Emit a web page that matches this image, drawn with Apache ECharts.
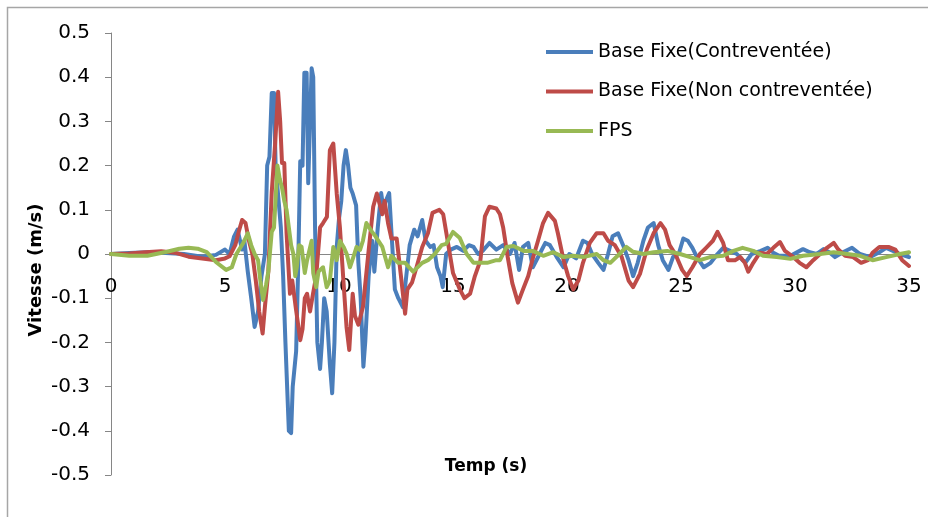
<!DOCTYPE html>
<html>
<head>
<meta charset="utf-8">
<script src="https://cdn.jsdelivr.net/npm/echarts@6/dist/echarts.min.js"></script>
<style>
  html, body { margin: 0; padding: 0; background: #ffffff; }
  #chart { width: 928px; height: 517px; }
</style>
</head>
<body>
<div id="chart"></div>
<script>
// Velocity time histories (m/s) versus time (s)
const seriesNames = ['Base Fixe(Contreventée)', 'Base Fixe(Non contreventée)', 'FPS'];

const blueT = [0, 0.8, 1.6, 2.4, 3.2, 4.0, 4.6, 5.0, 5.2, 5.4, 5.55, 5.75, 5.85, 6.0, 6.15, 6.3, 6.45, 6.6, 6.75, 6.85,
  6.95, 7.05, 7.15, 7.22, 7.3, 7.45, 7.55, 7.65, 7.72, 7.8, 7.9, 7.97, 8.05, 8.12, 8.2, 8.3, 8.4, 8.48, 8.58, 8.65,
  8.72, 8.8, 8.87, 8.95, 9.05, 9.17, 9.25, 9.35, 9.46, 9.6, 9.7, 9.8, 9.9, 10.0, 10.1, 10.2, 10.3, 10.4, 10.5, 10.6,
  10.75, 10.85, 10.95, 11.07, 11.15, 11.3, 11.45, 11.55, 11.7, 11.85, 11.95, 12.05, 12.2, 12.3, 12.45, 12.6, 12.8, 12.95, 13.1, 13.3,
  13.45, 13.65, 13.8, 14.0, 14.15, 14.3, 14.45, 14.55, 14.7, 14.9, 15.17, 15.45, 15.7, 15.9, 16.1, 16.3, 16.6, 16.9, 17.2, 17.5,
  17.7, 17.9, 18.07, 18.3, 18.5, 18.8, 19.05, 19.25, 19.55, 19.85, 20.1, 20.4, 20.7, 20.9, 21.1, 21.37, 21.6, 21.8, 22.0, 22.24,
  22.46, 22.7, 22.9, 23.1, 23.35, 23.55, 23.8, 24.0, 24.2, 24.45, 24.65, 24.9, 25.1, 25.3, 25.5, 25.7, 26.0, 26.3, 26.6, 26.85,
  27.15, 27.45, 27.7, 27.85, 28.1, 28.5, 28.8, 29.05, 29.3, 29.8, 30.35, 30.65, 30.95, 31.25, 31.5, 31.75, 32.1, 32.5, 32.85, 33.3,
  33.7, 34.0, 34.3, 34.6, 35.0];
const blueV = [0, 0.002, 0.004, 0.002, 0.0, -0.006, -0.002, 0.01, 0.0, 0.04, 0.055, 0.01, 0.03, -0.04, -0.1, -0.165, -0.13, -0.05, 0.0, 0.2,
  0.22, 0.364, 0.364, 0.2, 0.2, 0.06, -0.05, -0.2, -0.2, -0.4, -0.405, -0.3, -0.3, -0.22, -0.05, 0.21, 0.2, 0.41, 0.41, 0.16,
  0.16, 0.42, 0.4, 0.06, -0.2, -0.26, -0.2, -0.1, -0.13, -0.25, -0.315, -0.2, 0.016, 0.08, 0.12, 0.2, 0.235, 0.2, 0.15, 0.137,
  0.11, -0.02, -0.1, -0.255, -0.2, -0.05, 0.03, -0.04, 0.06, 0.138, 0.1, 0.12, 0.138, 0.05, -0.08, -0.1, -0.12, -0.05, 0.02, 0.055,
  0.04, 0.077, 0.03, 0.016, 0.02, -0.03, -0.05, -0.075, 0.0, 0.01, 0.016, 0.007, 0.02, 0.016, 0.0, 0.007, 0.025, 0.01, 0.02, 0.0,
  0.025, -0.036, 0.016, 0.025, -0.03, 0.0, 0.025, 0.02, -0.007, -0.03, 0.0, -0.01, 0.03, 0.025, 0.0, -0.02, -0.036, 0.0, 0.04, 0.047,
  0.02, -0.014, -0.05, -0.02, 0.03, 0.06, 0.07, 0.02, -0.014, -0.036, -0.007, 0.0, 0.035, 0.03, 0.014, -0.007, -0.03, -0.02, 0.0, 0.014,
  0.007, 0.0, -0.014, -0.018, 0.0, 0.007, 0.014, 0.003, -0.004, -0.004, 0.011, 0.004, 0.0, 0.011, 0.004, -0.007, 0.004, 0.014, 0.0, -0.007,
  0.004, 0.014, 0.007, 0.0, -0.007];

const redT = [0, 0.8, 1.5, 2.2, 2.8, 3.4, 4.0, 4.6, 5.0, 5.2, 5.45, 5.6, 5.75, 5.9, 6.05, 6.2, 6.35, 6.5, 6.65, 6.75,
  6.9, 7.05, 7.2, 7.33, 7.42, 7.5, 7.6, 7.7, 7.85, 7.95, 8.1, 8.3, 8.4, 8.5, 8.6, 8.73, 8.86, 9.0, 9.17, 9.3,
  9.47, 9.6, 9.75, 9.9, 10.04, 10.18, 10.33, 10.45, 10.6, 10.7, 10.85, 11.05, 11.27, 11.5, 11.66, 11.9, 12.0, 12.15, 12.3, 12.53,
  12.75, 12.9, 13.0, 13.2, 13.4, 13.65, 13.9, 14.1, 14.4, 14.57, 14.7, 15.0, 15.3, 15.5, 15.75, 15.96, 16.2, 16.4, 16.6, 16.9,
  17.06, 17.2, 17.4, 17.6, 17.85, 18.07, 18.3, 18.5, 18.7, 18.95, 19.17, 19.47, 19.6, 19.85, 20.05, 20.27, 20.5, 20.7, 21.0, 21.3,
  21.6, 21.8, 22.1, 22.4, 22.7, 22.9, 23.2, 23.5, 23.8, 24.1, 24.3, 24.5, 24.75, 25.05, 25.25, 25.5, 25.83, 26.1, 26.4, 26.6,
  26.85, 27.06, 27.37, 27.6, 27.8, 27.95, 28.17, 28.46, 28.77, 29.05, 29.34, 29.56, 29.86, 30.2, 30.5, 30.8, 31.1, 31.4, 31.7, 31.9,
  32.2, 32.55, 32.9, 33.2, 33.4, 33.7, 34.1, 34.4, 34.7, 35.0];
const redV = [0, 0.001, 0.004, 0.006, 0.003, -0.006, -0.01, -0.014, -0.01, -0.005, 0.02, 0.05, 0.077, 0.07, 0.03, 0.0, -0.06, -0.13, -0.18, -0.12,
  -0.04, 0.14, 0.25, 0.367, 0.3, 0.206, 0.206, 0.047, -0.09, -0.06, -0.12, -0.195, -0.17, -0.1, -0.09, -0.13, -0.09, -0.05, 0.06, 0.07,
  0.084, 0.235, 0.25, 0.137, 0.06, -0.05, -0.165, -0.217, -0.09, -0.14, -0.16, -0.12, -0.007, 0.107, 0.137, 0.09, 0.12, 0.07, 0.035, 0.035,
  -0.065, -0.135, -0.08, -0.065, -0.03, 0.016, 0.047, 0.093, 0.1, 0.09, 0.05, -0.043, -0.08, -0.1, -0.09, -0.05, -0.015, 0.085, 0.107, 0.103,
  0.09, 0.06, -0.007, -0.066, -0.11, -0.08, -0.05, -0.01, 0.025, 0.07, 0.093, 0.075, 0.047, -0.014, -0.05, -0.08, -0.06, -0.02, 0.025, 0.047,
  0.047, 0.03, 0.02, -0.007, -0.06, -0.075, -0.045, 0.01, 0.047, 0.07, 0.055, 0.02, 0.0, -0.036, -0.05, -0.03, 0.0, 0.014, 0.03, 0.05,
  0.025, -0.014, -0.014, -0.007, -0.02, -0.04, -0.02, 0.003, 0.0, 0.014, 0.027, 0.007, -0.004, -0.02, -0.03, -0.014, 0.0, 0.014, 0.025, 0.01,
  -0.004, -0.007, -0.02, -0.014, 0.003, 0.016, 0.016, 0.01, -0.014, -0.027];

const greenT = [0, 0.8, 1.6, 2.45, 3.0, 3.4, 3.8, 4.2, 4.6, 5.05, 5.3, 5.5, 5.8, 6.0, 6.15, 6.3, 6.45, 6.55, 6.67, 6.8,
  6.9, 7.05, 7.15, 7.3, 7.4, 7.5, 7.6, 7.7, 7.8, 7.9, 8.0, 8.08, 8.15, 8.25, 8.36, 8.5, 8.6, 8.8, 8.87, 9.0,
  9.1, 9.17, 9.3, 9.46, 9.6, 9.75, 9.9, 10.04, 10.2, 10.34, 10.48, 10.63, 10.77, 10.92, 11.05, 11.2, 11.45, 11.6, 11.9, 12.15,
  12.3, 12.6, 12.9, 13.25, 13.65, 13.9, 14.2, 14.5, 14.7, 15.0, 15.3, 15.6, 15.9, 16.5, 16.9, 17.06, 17.35, 17.65, 18.1, 18.5,
  18.96, 19.4, 19.85, 20.27, 20.7, 21.3, 21.6, 21.9, 22.3, 22.6, 22.9, 23.35, 23.8, 24.4, 24.96, 25.4, 25.83, 26.27, 26.85, 27.3,
  27.7, 28.17, 28.6, 29.2, 29.8, 30.35, 31.1, 31.7, 32.3, 32.85, 33.4, 34.0, 34.6, 35.0];
const greenV = [0, -0.004, -0.004, 0.005, 0.012, 0.014, 0.012, 0.004, -0.018, -0.036, -0.03, 0.0, 0.025, 0.047, 0.02, 0.0, -0.014, -0.06, -0.104, -0.07,
  -0.04, 0.05, 0.06, 0.2, 0.17, 0.15, 0.12, 0.1, 0.06, 0.02, 0.0, -0.05, -0.03, 0.02, 0.016, -0.043, -0.014, 0.03, -0.043, -0.075,
  -0.04, -0.043, -0.03, -0.075, -0.06, 0.016, -0.014, 0.03, 0.016, 0.0, -0.03, -0.007, 0.016, 0.009, 0.03, 0.07, 0.05, 0.04, 0.016, -0.03,
  -0.004, -0.02, -0.02, -0.04, -0.02, -0.014, 0.0, 0.02, 0.023, 0.05, 0.036, 0.0, -0.02, -0.02, -0.014, -0.014, 0.016, 0.018, 0.007, 0.007,
  -0.004, 0.004, -0.007, -0.004, -0.007, 0.0, -0.014, -0.02, 0.0, 0.016, 0.005, 0.0, 0.004, 0.007, 0.0, -0.007, -0.014, -0.007, -0.004, 0.007,
  0.014, 0.007, -0.004, -0.007, -0.011, -0.004, 0.0, 0.004, 0.0, -0.004, -0.014, -0.007, 0.0, 0.004];

const seriesColors = ['#4A7EBB', '#BE4B48', '#98B954'];
const xRange = { min: 0, max: 35, step: 5 };
const yRange = { min: -0.5, max: 0.5, step: 0.1 };

const pairs = (ts, vs) => ts.map((t, i) => [t, vs[i]]);
const seriesData = [pairs(blueT, blueV), pairs(redT, redV), pairs(greenT, greenV)];

// plot area geometry
const GRID = { left: 111, right: 19, top: 33, bottom: 42 };
const PLOT_H = 517 - GRID.top - GRID.bottom;
// lift the time axis (line + labels) from the bottom edge up to v = 0
const zeroOffset = -PLOT_H * (0 - yRange.min) / (yRange.max - yRange.min);

const FONT = '"DejaVu Sans", "Liberation Sans", sans-serif';
const chart = echarts.init(document.getElementById('chart'), null, { renderer: 'canvas' });

chart.setOption({
  animation: false,
  backgroundColor: '#ffffff',
  grid: GRID,
  legend: {
    orient: 'vertical',
    left: 546,
    top: 42,
    padding: 0,
    itemGap: 19.5,
    itemWidth: 47,
    itemHeight: 4,
    icon: 'rect',
    textStyle: { fontFamily: FONT, fontSize: 19, color: '#000', lineHeight: 20 },
    data: seriesNames
  },
  xAxis: {
    type: 'value',
    position: 'bottom',
    offset: zeroOffset,
    min: xRange.min, max: xRange.max, interval: xRange.step,
    axisLine: { onZero: false, lineStyle: { color: '#868686', width: 1 } },
    axisTick: { show: false },
    splitLine: { show: false },
    axisLabel: { margin: 23, fontFamily: FONT, fontSize: 20, color: '#000' }
  },
  yAxis: {
    type: 'value',
    min: yRange.min, max: yRange.max, interval: yRange.step,
    axisLine: { show: true, lineStyle: { color: '#868686', width: 1 } },
    axisTick: { show: true, length: 6, lineStyle: { color: '#868686' } },
    splitLine: { show: false },
    axisLabel: {
      margin: 21, fontFamily: FONT, fontSize: 20, color: '#000',
      formatter: v => String(Number(v.toFixed(1)))
    }
  },
  series: seriesNames.map((name, i) => ({
    name,
    type: 'line',
    data: seriesData[i],
    showSymbol: false,
    symbol: 'none',
    color: seriesColors[i],
    lineStyle: { width: 4, color: seriesColors[i], cap: 'round', join: 'round' },
    z: 2 + i
  })),
  graphic: [
    {
      type: 'rect', silent: true, z: -1,
      shape: { x: 7.5, y: 7.5, width: 1000, height: 1000 },
      style: { fill: 'none', stroke: '#a6a6a6', lineWidth: 1.5 }
    },
    {
      type: 'text', x: 36, y: 270, rotation: Math.PI / 2,
      style: {
        text: 'Vitesse (m/s)', fontFamily: FONT, fontSize: 18, fontWeight: 'bold',
        fill: '#000', align: 'center', verticalAlign: 'middle'
      }
    },
    {
      type: 'text', x: 486, y: 467,
      style: {
        text: 'Temp (s)', fontFamily: FONT, fontSize: 17, fontWeight: 'bold',
        fill: '#000', align: 'center', verticalAlign: 'middle'
      }
    }
  ]
});
</script>
</body>
</html>
